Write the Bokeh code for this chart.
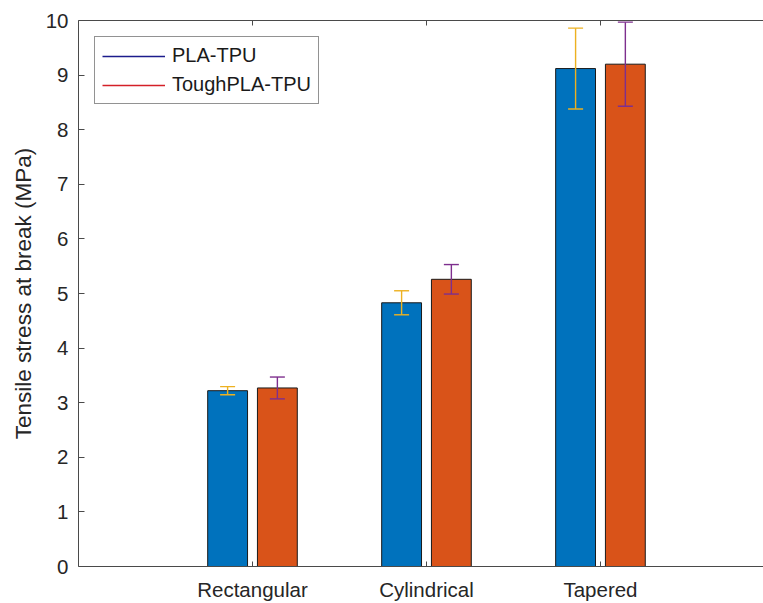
from bokeh.plotting import figure
from bokeh.models import (ColumnDataSource, FixedTicker, LinearAxis, Range1d,
                          Legend, LegendItem, Whisker, TeeHead)
from bokeh.embed import file_html
from bokeh.resources import INLINE

# Tensile stress at break (MPa), mean and error per specimen geometry
categories = ["Rectangular", "Cylindrical", "Tapered"]
pla_tpu = [3.22, 4.83, 9.12]
pla_tpu_err = [0.075, 0.22, 0.74]
tough_pla_tpu = [3.27, 5.26, 9.20]
tough_pla_tpu_err = [0.20, 0.27, 0.77]
y_ticks = [0, 1, 2, 3, 4, 5, 6, 7, 8, 9, 10]

FONT = "Liberation Sans"
TEXT = "#262626"
AXIS = "#4a4a4a"
BLUE = "#0072BD"
ORANGE = "#D95319"

positions = list(range(1, len(categories) + 1))
offset = 0.143
bar_w = 0.229

p = figure(width=763, height=603,
           x_range=Range1d(0, 3.937), y_range=Range1d(0, 10),
           output_backend="svg", toolbar_location=None,
           min_border_left=78, min_border_top=20,
           min_border_right=0, min_border_bottom=36)
p.outline_line_color = None
p.xgrid.visible = False
p.ygrid.visible = False
p.background_fill_color = "white"
p.border_fill_color = "white"

series = [
    (pla_tpu, pla_tpu_err, -offset, BLUE, "#EDB120"),
    (tough_pla_tpu, tough_pla_tpu_err, offset, ORANGE, "#7E2F8E"),
]
for vals, errs, dx, fill, ecol in series:
    xs = [x + dx for x in positions]
    src = ColumnDataSource(dict(
        x=xs, top=vals,
        upper=[v + e for v, e in zip(vals, errs)],
        lower=[v - e for v, e in zip(vals, errs)],
    ))
    p.vbar(x="x", top="top", width=bar_w, source=src,
           fill_color=fill, line_color="#1a1a1a", line_width=1)
    p.add_layout(Whisker(
        base="x", upper="upper", lower="lower", source=src,
        dimension="height", line_color=ecol, line_width=1.4, level="overlay",
        upper_head=TeeHead(size=15, line_color=ecol, line_width=1.4),
        lower_head=TeeHead(size=15, line_color=ecol, line_width=1.4),
    ))

# bottom axis with category names
xa = p.xaxis[0]
xa.ticker = FixedTicker(ticks=positions)
xa.major_label_overrides = {pos: name for pos, name in zip(positions, categories)}
xa.major_tick_in = 5
xa.major_tick_out = 0
xa.minor_tick_line_color = None
xa.axis_line_color = AXIS
xa.major_tick_line_color = AXIS
xa.major_label_text_font = FONT
xa.major_label_text_font_size = "20.5px"
xa.major_label_text_color = TEXT
xa.major_label_standoff = 11

# left axis
ya = p.yaxis[0]
ya.ticker = FixedTicker(ticks=y_ticks)
ya.major_tick_in = 6
ya.major_tick_out = 0
ya.minor_tick_line_color = None
ya.axis_line_color = AXIS
ya.major_tick_line_color = AXIS
ya.major_label_text_font = FONT
ya.major_label_text_font_size = "20.5px"
ya.major_label_text_color = TEXT
ya.major_label_standoff = 10
ya.axis_label = "Tensile stress at break (MPa)"
ya.axis_label_text_font = FONT
ya.axis_label_text_font_size = "22.5px"
ya.axis_label_text_font_style = "normal"
ya.axis_label_text_color = TEXT
ya.axis_label_standoff = 7

# top box edge with inward ticks and no labels
top = LinearAxis(ticker=FixedTicker(ticks=positions),
                 major_tick_in=5, major_tick_out=0,
                 minor_tick_line_color=None,
                 axis_line_color=AXIS, major_tick_line_color=AXIS,
                 major_label_overrides={pos: "" for pos in positions},
                 major_label_text_font_size="1px",
                 major_label_standoff=0)
p.add_layout(top, "above")

# legend entries drawn as plain lines
nan = float("nan")
l1 = p.line(x=[nan], y=[nan], line_color="#1c1c8c", line_width=1.5)
l2 = p.line(x=[nan], y=[nan], line_color="#d42028", line_width=1.5)
legend = Legend(
    items=[LegendItem(label="PLA-TPU", renderers=[l1]),
           LegendItem(label="ToughPLA-TPU", renderers=[l2])],
    location="top_left", margin=16, padding=7, spacing=6,
    glyph_width=63, glyph_height=20, label_height=20, label_standoff=7,
    label_text_font=FONT, label_text_font_size="20px",
    label_text_color="#1a1a1a",
    border_line_color="#262626", border_line_width=1,
    background_fill_color="white", background_fill_alpha=1,
)
p.add_layout(legend)

open("out.html", "w").write(file_html(p, INLINE))
